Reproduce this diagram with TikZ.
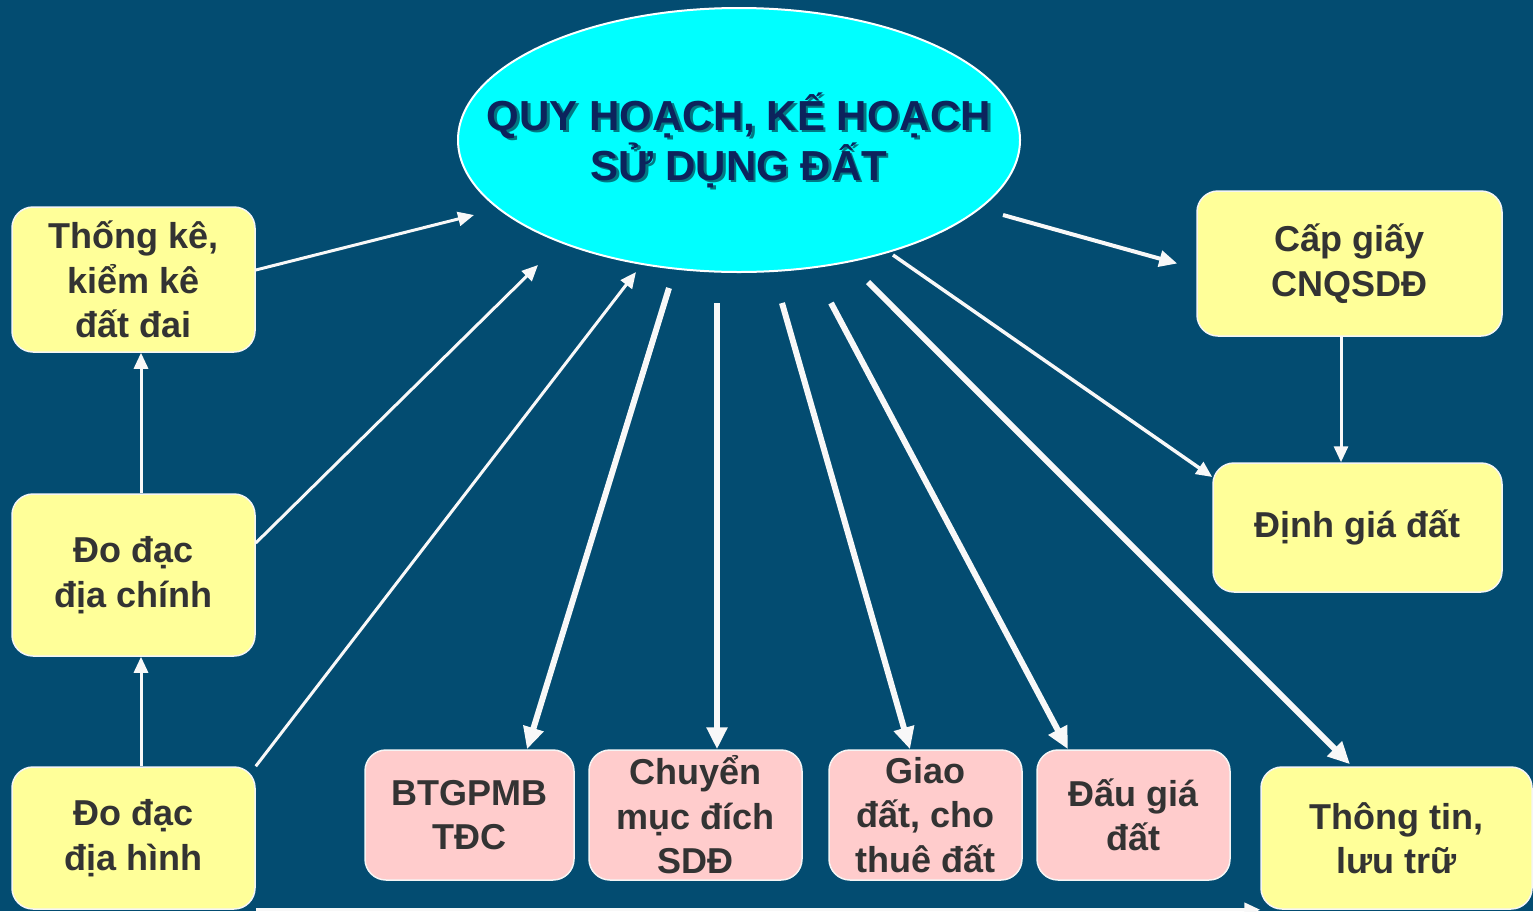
\documentclass[tikz,border=0pt]{standalone}
\usepackage{fontspec}
\setmainfont{Liberation Sans}
\usetikzlibrary{arrows.meta,shapes.geometric}
\definecolor{bgc}{RGB}{3,76,113}
\definecolor{cyanc}{RGB}{0,255,255}
\definecolor{yelc}{RGB}{255,255,153}
\definecolor{pinkc}{RGB}{255,204,204}
\definecolor{txtc}{RGB}{51,51,51}
\definecolor{titc}{RGB}{12,35,92}
\definecolor{arrc}{RGB}{248,248,248}
\tikzset{
  box/.style={draw=white!92!gray, line width=1.5pt, rounded corners=21pt, inner sep=0pt, align=center, text=txtc, font=\bfseries\fontsize{36}{44.5}\selectfont},
  ybox/.style={box, fill=yelc},
  pbox/.style={box, fill=pinkc},
  arr/.style={draw=arrc, line width=3pt, -{Triangle[length=16pt,width=14pt]}},
  marr/.style={draw=arrc, line width=4pt, -{Triangle[length=18pt,width=16pt]}},
  tarr/.style={draw=arrc, line width=6pt, -{Triangle[length=22pt,width=20pt]}},
  titletext/.style={align=center, font=\bfseries\fontsize{42}{50}\selectfont, inner sep=0pt}
}
\begin{document}
\begin{tikzpicture}[x=1pt,y=-1pt]
\fill[bgc] (0,0) rectangle (1533,911);
\useasboundingbox (0,0) rectangle (1533,911);
% central ellipse
\node[ellipse, draw=white, line width=2pt, fill=cyanc, minimum width=562pt, minimum height=264pt, inner sep=0pt] (ell) at (739,140) {};
\node[titletext, text=black!70!titc, opacity=0.55] (tsh) at (741.5,142.5) {QUY HOẠCH, KẾ HOẠCH\\SỬ DỤNG ĐẤT};
\node[titletext, text=titc] (title) at (739,140) {QUY HOẠCH, KẾ HOẠCH\\SỬ DỤNG ĐẤT};
% left boxes
\node[ybox, minimum width=243pt, minimum height=145pt] (tk) at (133.5,279.5) {Thống kê,\\kiểm kê\\đất đai};
\node[ybox, minimum width=243pt, minimum height=162pt] (dc) at (133.5,575) {Đo đạc\\địa chính};
\node[ybox, minimum width=243pt, minimum height=142pt] (dh) at (133.5,838) {Đo đạc\\địa hình};
% right boxes
\node[ybox, minimum width=305pt, minimum height=145pt] (cg) at (1349.5,263.5) {Cấp giấy\\CNQSDĐ};
\node[ybox, minimum width=289pt, minimum height=129pt] (di) at (1357.5,527.5) {Định giá đất};
\node[ybox, minimum width=271pt, minimum height=142pt] (tt) at (1396.5,838) {Thông tin,\\lưu trữ};
% bottom pink boxes
\node[pbox, minimum width=209pt, minimum height=130pt] (btg) at (469.5,815) {BTGPMB\\TĐC};
\node[pbox, minimum width=213pt, minimum height=130pt] (cm) at (695.5,815) {Chuyển\\mục đích\\SDĐ};
\node[pbox, minimum width=193pt, minimum height=130pt] (gd) at (925.5,815) {Giao\\đất, cho\\thuê đất};
\node[pbox, minimum width=193pt, minimum height=130pt] (dg) at (1133.5,815) {Đấu giá\\đất};
% connector ends near the ellipse
\coordinate (e1) at (474,215);
\coordinate (e2) at (538,265);
\coordinate (e3) at (636,272);
\coordinate (e6) at (669,288);
\coordinate (e7) at (717,303);
\coordinate (e8) at (782,303);
\coordinate (e9) at (831,303);
\coordinate (e10) at (868,282);
\coordinate (e11) at (893,255);
\coordinate (e12) at (1003,215);
% connectors into the ellipse
\draw[arr] ([yshift=9.5pt]tk.east) -- (e1);
\draw[arr] ([yshift=32pt]dc.east) -- (e2);
\draw[arr] (dh.north east) -- (e3);
% vertical left
\draw[arr] ([xshift=7.5pt]dc.north) -- ([xshift=7.5pt]tk.south);
\draw[arr] ([xshift=7.5pt]dh.north) -- ([xshift=7.5pt]dc.south);
% out of the ellipse
\draw[tarr] (e6) -- ([xshift=57.5pt]btg.north);
\draw[tarr] (e7) -- ([xshift=21.5pt]cm.north);
\draw[tarr] (e8) -- ([xshift=-15.5pt]gd.north);
\draw[tarr] (e9) -- ([xshift=-65.5pt]dg.north);
\draw[tarr] (e10) -- ([xshift=-46.5pt,yshift=2pt]tt.north);
\draw[arr, line width=3.5pt] (e11) -- ([yshift=50.5pt]di.west);
\draw[marr] (e12) -- ([xshift=-19pt]cg.west);
\draw[arr] ([xshift=-8.5pt]cg.south) -- ([xshift=-16.5pt]di.north);
% bottom connector
\draw[arr] (dh.south east) -- (tt.south west);
\end{tikzpicture}
\end{document}
